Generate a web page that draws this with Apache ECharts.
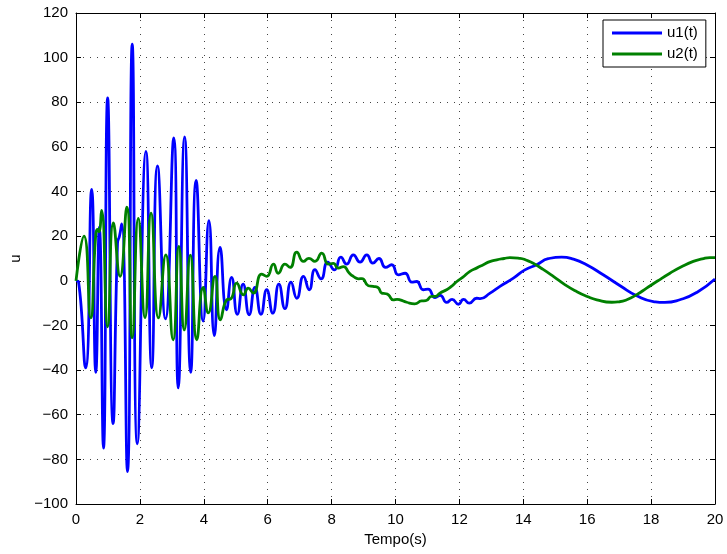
<!DOCTYPE html>
<html>
<head>
<meta charset="utf-8">
<script src="https://cdn.jsdelivr.net/npm/echarts@6/dist/echarts.min.js"></script>
<style>html,body{margin:0;padding:0;background:#fff;}#chart{width:727px;height:554px;}</style>
</head>
<body>
<div id="chart"></div>
<script>
// time instants and values (extrema and shape points)
const t1 = [0, 0.08, 0.30, 0.49, 0.62, 0.73, 0.86, 0.99, 1.16, 1.30, 1.36, 1.43, 1.61, 1.76, 1.92, 2.19, 2.37, 2.55, 2.80, 3.06, 3.20, 3.40, 3.59, 3.76, 3.98, 4.16, 4.33, 4.51, 4.71, 4.87, 5.05, 5.23, 5.42, 5.60, 5.79, 5.97, 6.16, 6.35, 6.54, 6.73, 6.91, 7.12, 7.30, 7.48, 7.67, 7.88, 8.09, 8.29, 8.47, 8.68, 8.89, 9.10, 9.29, 9.48, 9.69, 9.88, 10.09, 10.30, 10.51, 10.66, 10.87, 11.02, 11.24, 11.40, 11.60, 11.77, 11.97, 12.13, 12.31, 12.54, 12.65, 12.96, 13.27, 13.69, 14.05, 14.42, 14.78, 15.20, 15.57, 15.98, 16.50, 17.03, 17.55, 18.07, 18.43, 18.90, 19.43, 20];
const u1 = [0, -0.5, -39, 41, -41, 24, -75, 82, -64, 17, 20, 25.5, -85.5, 106, -73, 58, -39, 51.5, -17, 64, -48, 64.5, -41, 45, -18, 27, -24.6, 15, -13, 1.5, -15, -1.5, -15.2, -3, -15, -4, -14.5, -1.5, -12.5, -0.6, -7.8, 2, -4, 5, 0.9, 8.4, 4.9, 10.6, 7.5, 11.6, 8.4, 11.6, 7.9, 10, 6, 7.2, 2.7, 3.4, -0.6, -0.3, -4, -3.7, -7.5, -6.5, -9.7, -8.3, -10.5, -8.3, -10, -7.8, -8, -5.5, -2.5, 1.2, 4.9, 7.2, 9.9, 10.6, 9.7, 7.2, 2.7, -2.2, -6.7, -9.3, -9.7, -8.5, -5.2, 0.8];

const t2 = [0, 0.25, 0.46, 0.62, 0.68, 0.72, 0.80, 0.99, 1.17, 1.38, 1.59, 1.76, 1.95, 2.16, 2.35, 2.58, 2.81, 3.04, 3.22, 3.39, 3.58, 3.78, 3.98, 4.14, 4.35, 4.52, 4.72, 4.85, 5.03, 5.24, 5.39, 5.55, 5.81, 5.97, 6.18, 6.33, 6.54, 6.70, 6.91, 7.12, 7.29, 7.48, 7.69, 7.90, 8.05, 8.21, 8.37, 8.55, 8.68, 8.84, 8.95, 9.15, 9.30, 9.45, 9.57, 9.70, 9.78, 9.93, 10.05, 10.14, 10.35, 10.60, 10.82, 10.95, 11.13, 11.25, 11.39, 11.60, 11.75, 11.92, 12.10, 12.33, 12.55, 12.75, 12.95, 13.17, 13.40, 13.58, 13.90, 14.10, 14.31, 14.60, 14.94, 15.30, 15.67, 16.00, 16.30, 16.77, 17.00, 17.24, 17.55, 17.86, 18.20, 18.59, 18.95, 19.32, 19.60, 19.84, 20];
const u2 = [0, 20, -16.6, 21, 23, 22, 31.5, -20.6, 26, 2, 33, -25.5, 28, -16.5, 30.3, -16.6, 11.6, -26.4, 15.4, -22, 11.5, -26.4, -3, -14.4, 2, -17.5, -8.5, -8, -1, -6.3, -3.3, -5.5, 3, 2, 7.5, 3.4, 7.5, 6, 12.9, 8.7, 10.1, 8.7, 12.4, 7.5, 7.8, 5.7, 6.4, 3.5, 2, 0.9, 1.0, -2.2, -2.5, -3, -5.5, -5.8, -6.3, -8.5, -8.3, -8.5, -9.6, -10.3, -9, -8.9, -7, -7.0, -5.5, -4, -2.5, -0.3, 1.5, 4.2, 5.8, 7.2, 8.6, 9.4, 10.0, 10.4, 10.1, 9.2, 7.9, 5.3, 2, -1.7, -4.8, -7, -8.5, -9.6, -9.4, -8.5, -6.2, -3.3, -0.1, 3.4, 6.3, 8.7, 9.8, 10.4, 10.4];

const xTicks = [0, 2, 4, 6, 8, 10, 12, 14, 16, 18, 20];
const yTicks = [-100, -80, -60, -40, -20, 0, 20, 40, 60, 80, 100, 120];
const seriesNames = ['u1(t)', 'u2(t)'];

const pairs = (t, u) => t.map((x, i) => [x, u[i]]);
const fmt = v => String(v).replace('-', '\u2212');
const FONT = 'Liberation Sans, Arial, Helvetica, sans-serif';

const chart = echarts.init(document.getElementById('chart'), null, {renderer: 'canvas'});
const gridLine = {show: true, lineStyle: {color: '#444', width: 1, type: [1, 6]}};
const baseAxisLine = {show: true, onZero: false, lineStyle: {color: '#000', width: 1}};
const tick = {show: true, inside: true, length: 5, lineStyle: {color: '#000'}};
chart.setOption({
  animation: false,
  backgroundColor: '#fff',
  grid: {left: 76, right: 12, top: 13, bottom: 50, show: false},
  legend: {
    data: seriesNames,
    orient: 'vertical',
    left: 603, top: 20,
    padding: [5, 8, 5, 9],
    itemGap: 5,
    itemWidth: 50, itemHeight: 3,
    icon: 'rect',
    borderColor: '#000', borderWidth: 1, backgroundColor: '#fff',
    textStyle: {fontFamily: FONT, fontSize: 15, color: '#000', lineHeight: 16}
  },
  xAxis: [{
    type: 'value', min: xTicks[0], max: xTicks[xTicks.length - 1], interval: 2,
    position: 'bottom',
    name: 'Tempo(s)', nameLocation: 'middle', nameGap: 26,
    nameTextStyle: {fontFamily: FONT, fontSize: 15, color: '#000'},
    axisLine: baseAxisLine, axisTick: tick,
    axisLabel: {fontFamily: FONT, fontSize: 15, color: '#000', margin: 8, formatter: fmt},
    splitLine: gridLine
  }, {
    type: 'value', min: xTicks[0], max: xTicks[xTicks.length - 1], interval: 2,
    position: 'top',
    axisLine: baseAxisLine, axisTick: tick,
    axisLabel: {show: false}, splitLine: {show: false}
  }],
  yAxis: [{
    type: 'value', min: yTicks[0], max: yTicks[yTicks.length - 1], interval: 20,
    position: 'left',
    name: 'u', nameLocation: 'middle', nameGap: 52,
    nameTextStyle: {fontFamily: FONT, fontSize: 15, color: '#000'},
    axisLine: baseAxisLine, axisTick: tick,
    axisLabel: {fontFamily: FONT, fontSize: 15, color: '#000', margin: 8, formatter: fmt},
    splitLine: gridLine
  }, {
    type: 'value', min: yTicks[0], max: yTicks[yTicks.length - 1], interval: 20,
    position: 'right',
    axisLine: baseAxisLine, axisTick: tick,
    axisLabel: {show: false}, splitLine: {show: false}
  }],
  series: [{
    name: seriesNames[0], type: 'line', data: pairs(t1, u1),
    smooth: 0.55, symbol: 'none', color: '#0000FF',
    lineStyle: {width: 2.8, color: '#0000FF'}, z: 3
  }, {
    name: seriesNames[1], type: 'line', data: pairs(t2, u2),
    smooth: 0.55, symbol: 'none', color: '#008000',
    lineStyle: {width: 2.8, color: '#008000'}, z: 4
  }]
});
</script>
</body>
</html>
